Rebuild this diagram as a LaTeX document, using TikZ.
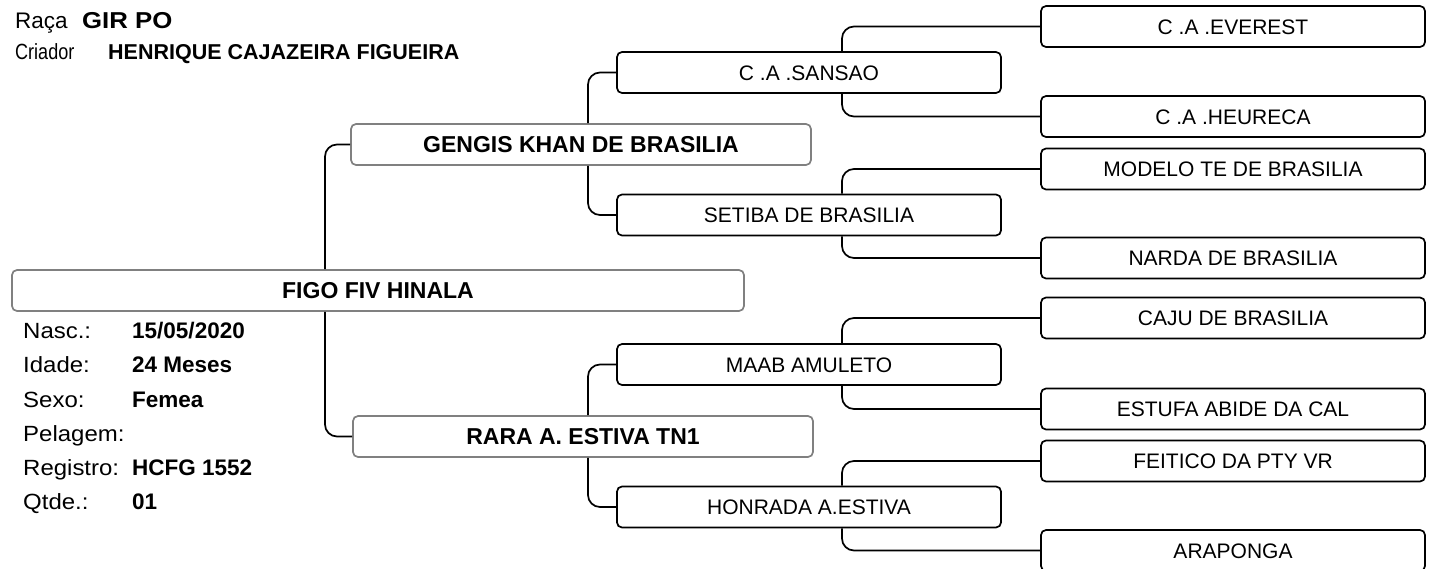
\documentclass[tikz,border=0pt]{standalone}
\usepackage{fontspec}
\setmainfont{Liberation Sans}
\usepackage{graphicx}
\begin{document}
\begin{tikzpicture}[x=1pt,y=-1pt,
  conn/.style={draw=black, line width=1.7pt, rounded corners=12pt},
  boxbase/.style={draw, line width=1.7pt, rounded corners=5pt, inner sep=0pt, minimum height=41pt, fill=white},
  boxA/.style={boxbase, draw=gray, font=\fontsize{23}{27}\selectfont\bfseries, text height=16.5pt, text depth=0pt},
  boxB/.style={boxbase, draw=black, minimum width=384pt, font=\fontsize{21}{25}\selectfont, text height=15pt, text depth=0pt},
  lbl/.style={anchor=base west, inner sep=0pt, font=\fontsize{22}{26}\selectfont},
  val/.style={anchor=base west, inner sep=0pt, font=\fontsize{22.5}{26}\selectfont\bfseries}
]
\useasboundingbox (0,0) rectangle (1433,568);
\clip (0,0) rectangle (1433,568);
\fill[white] (0,0) rectangle (1433,568);

% column coordinates for connectors
\coordinate (c1) at (325,0);
\coordinate (c2) at (588,0);
\coordinate (c3) at (842,0);

% header
\node[lbl, font=\fontsize{22.5}{26}\selectfont] (raca) at (15,28) {Raça};
\node[val, font=\fontsize{23}{27}\selectfont\bfseries] (raca v) at (82,28) {\scalebox{1.12}[1]{GIR PO}};
\node[lbl] (criador) at (15,59) {\scalebox{0.82}[1]{Criador}};
\node[val, font=\fontsize{21.5}{26}\selectfont\bfseries] (criador v) at (108,59) {HENRIQUE CAJAZEIRA FIGUEIRA};

% generation 0 and 1
\node[boxA, minimum width=732pt] (figo) at (378,290.5) {FIGO FIV HINALA};
\node[boxA, minimum width=460pt] (gengis) at (581,144.5) {GENGIS KHAN DE BRASILIA};
\node[boxA, minimum width=460pt] (rara) at (583,436.5) {RARA A. ESTIVA TN1};

% generation 2
\node[boxB] (sansao) at (809,72.5) {C .A .SANSAO};
\node[boxB] (setiba) at (809,215) {SETIBA DE BRASILIA};
\node[boxB] (maab) at (809,364.5) {MAAB AMULETO};
\node[boxB] (honrada) at (809,507) {HONRADA A.ESTIVA};

% generation 3
\node[boxB] (everest) at (1233,26.5) {C .A .EVEREST};
\node[boxB] (heureca) at (1233,116.5) {C .A .HEURECA};
\node[boxB] (modelo) at (1233,169) {MODELO TE DE BRASILIA};
\node[boxB] (narda) at (1233,258) {NARDA DE BRASILIA};
\node[boxB] (caju) at (1233,318) {CAJU DE BRASILIA};
\node[boxB] (estufa) at (1233,409) {ESTUFA ABIDE DA CAL};
\node[boxB] (feitico) at (1233,461) {FEITICO DA PTY VR};
\node[boxB] (arapong) at (1233,550.5) {ARAPONGA};

% connectors
\draw[conn] (figo.north -| c1) |- (gengis.west);
\draw[conn] (figo.south -| c1) |- (rara.west);
\draw[conn] (gengis.north -| c2) |- (sansao.west);
\draw[conn] (gengis.south -| c2) |- (setiba.west);
\draw[conn] (rara.north -| c2) |- (maab.west);
\draw[conn] (rara.south -| c2) |- (honrada.west);
\draw[conn] (sansao.north -| c3) |- (everest.west);
\draw[conn] (sansao.south -| c3) |- (heureca.west);
\draw[conn] (setiba.north -| c3) |- (modelo.west);
\draw[conn] (setiba.south -| c3) |- (narda.west);
\draw[conn] (maab.north -| c3) |- (caju.west);
\draw[conn] (maab.south -| c3) |- (estufa.west);
\draw[conn] (honrada.north -| c3) |- (feitico.west);
\draw[conn] (honrada.south -| c3) |- (arapong.west);

% details
\node[lbl] (l1) at (23,338) {\scalebox{1.09}[1]{Nasc.:}};
\node[lbl] (l2) at (23,372) {\scalebox{1.09}[1]{Idade:}};
\node[lbl] (l3) at (23,407) {\scalebox{1.09}[1]{Sexo:}};
\node[lbl] (l4) at (23,441) {\scalebox{1.09}[1]{Pelagem:}};
\node[lbl] (l5) at (23,475) {\scalebox{1.09}[1]{Registro:}};
\node[lbl] (l6) at (23,509) {\scalebox{1.09}[1]{Qtde.:}};
\node[val] (v1) at (132,338) {15/05/2020};
\node[val] (v2) at (132,372) {24 Meses};
\node[val] (v3) at (132,407) {Femea};
\node[val] (v5) at (132,475) {HCFG 1552};
\node[val] (v6) at (132,509) {01};
\end{tikzpicture}
\end{document}
